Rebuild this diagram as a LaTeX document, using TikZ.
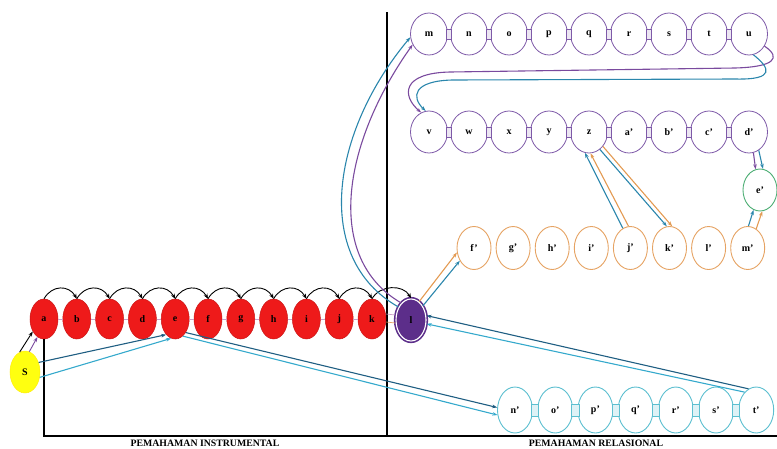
\documentclass[tikz,border=0pt]{standalone}
\usepackage{fontspec}
\setmainfont{Liberation Serif}
\usetikzlibrary{shapes.geometric,arrows.meta}

\definecolor{nodered}{HTML}{EE1A1A}
\definecolor{linkpink}{HTML}{C9A0C8}
\definecolor{ringpurple}{HTML}{7E5AA8}
\definecolor{lpurple}{HTML}{5C2E8A}
\definecolor{ringorange}{HTML}{E6A363}
\definecolor{ringgreen}{HTML}{4DAE74}
\definecolor{ringteal}{HTML}{5CBFD0}
\definecolor{darkblue}{HTML}{1F5E82}
\definecolor{lightblue}{HTML}{35A9CC}
\definecolor{midblue}{HTML}{2A86AC}
\definecolor{arrpurple}{HTML}{7A4A9E}
\definecolor{arrorange}{HTML}{E39A52}
\definecolor{sunyellow}{HTML}{FFFF10}

\begin{document}
\begin{tikzpicture}[x=1pt,y=-1pt,
  lbl/.style={font=\bfseries\fontsize{10}{12}\selectfont},
  redn/.style={ellipse, fill=nodered, draw=nodered!85!black, line width=0.5pt,
    minimum width=28pt, minimum height=40pt, inner sep=0pt, lbl},
  purn/.style={ellipse, fill=white, draw=ringpurple, line width=0.8pt,
    minimum width=37pt, minimum height=42pt, inner sep=0pt, lbl},
  orn/.style={ellipse, fill=white, draw=ringorange, line width=0.9pt,
    minimum width=34pt, minimum height=43pt, inner sep=0pt, lbl},
  tln/.style={ellipse, fill=white, draw=ringteal, line width=0.9pt,
    minimum width=35pt, minimum height=46pt, inner sep=0pt, lbl},
  grn/.style={ellipse, fill=white, draw=ringgreen, line width=0.9pt,
    minimum width=34pt, minimum height=42pt, inner sep=0pt, lbl},
  lnode/.style={ellipse, fill=lpurple, draw=lpurple, line width=1.6pt,
    double=white, double distance=1.1pt,
    minimum width=30pt, minimum height=42pt, inner sep=0pt, lbl},
  snode/.style={ellipse, fill=sunyellow, draw=sunyellow!85!orange, line width=0.5pt,
    minimum width=30pt, minimum height=42pt, inner sep=0pt, lbl},
  pbar/.style={draw=ringpurple, fill=ringpurple!15, line width=0.6pt},
  tbar/.style={draw=ringteal, fill=ringteal!20, line width=0.7pt},
  hop/.style={line width=0.9pt, -{Stealth[length=5pt,width=4pt]}},
  arr/.style={line width=1.1pt, -{Stealth[length=5pt,width=3.6pt]}},
  frame/.style={line width=1.5pt, black},
  axislabel/.style={font=\bfseries\fontsize{9.8}{11}\selectfont, anchor=base},
]
\useasboundingbox (0,0) rectangle (777,448);

% frame of the two regions
\draw[frame] (387,12) -- (387,436);

% instrumental chain
\foreach \nm/\tx [count=\i from 0] in {ra/a,rb/b,rc/c,rd/d,re/e,rf/f,rg/g,rh/h,ri/i,rj/j,rk/k}
  \node[redn] (\nm) at ({44+32.8*\i},319) {\tx};
\node[lnode] (nl) at (411,320) {l};
\node[snode] (nS) at (25,372) {S};

\draw[frame] (ra.south) -- (ra.south |- 0,436) -- (777,436);

\foreach \a/\b in {ra/rb,rb/rc,rc/rd,rd/re,re/rf,rf/rg,rg/rh,rh/ri,ri/rj,rj/rk}
  \draw[linkpink, line width=0.6pt] (\a.east) -- (\b.west);
\draw[linkpink, line width=0.7pt] ([yshift=5pt]rk.east) -- ([yshift=5pt]nl.west);
\draw[ringorange, line width=0.7pt] ([yshift=-3pt]rk.east) -- ([yshift=-3pt]nl.west);

\foreach \a/\b in {ra/rb,rb/rc,rc/rd,rd/re,re/rf,rf/rg,rg/rh,rh/ri,ri/rj,rj/rk,rk/nl}
  \draw[hop] (\a.north) .. controls +(8,-14) and +(-8,-14) .. (\b.north);

% relational rings
\foreach \nm/\tx [count=\i from 0] in {tm/m,tn/n,to/o,tp/p,tq/q,tr/r,ts/s,tt/t,tu/u}
  \node[purn] (\nm) at ({429+40*\i},34) {\tx};
\foreach \nm/\tx [count=\i from 0] in {sv/v,sw/w,sx/x,sy/y,sz/z,sap/a',sbp/b',scp/c',sdp/d'}
  \node[purn] (\nm) at ({429+40*\i},132) {\tx};
\foreach \nm/\tx [count=\i from 0] in {fp/f',gp/g',hp/h',ip/i',jp/j',kp/k',lp/l',mp/m'}
  \node[orn] (\nm) at ({474+39.1*\i},248) {\tx};
\foreach \nm/\tx [count=\i from 0] in {np/n',op/o',pp/p',qp/q',rp/r',spp/s',tpp/t'}
  \node[tln] (\nm) at ({515+40.2*\i},410) {\tx};
\node[grn] (ep) at (760,190) {e'};

% link bars between neighbouring rings
\foreach \a/\b in {tm/tn,tn/to,to/tp,tp/tq,tq/tr,tr/ts,ts/tt,tt/tu,
                   sv/sw,sw/sx,sx/sy,sy/sz,sz/sap,sap/sbp,sbp/scp,scp/sdp}
  \draw[pbar] ([shift={(-1.2,-5)}]\a.east) rectangle ([shift={(1.2,5)}]\b.west);
\foreach \a/\b in {np/op,op/pp,pp/qp,qp/rp,rp/spp,spp/tpp}
  \draw[tbar] ([shift={(-1.5,-6)}]\a.east) rectangle ([shift={(1.5,6)}]\b.west);

% start node into the chain
\draw[arr, black, line width=0.9pt] (nS.105) -- (ra.228);
\draw[arr, arrpurple, line width=0.9pt] (nS.78) -- (ra.250);
\draw[arr, darkblue] (nS.35) -- (re.240);
\draw[arr, lightblue] (nS.-20) -- (re.258);

% e towards the bottom rings
\draw[arr, darkblue] (re.-52) -- (np.172);
\draw[arr, lightblue] (re.-66) -- (np.196);

% t' back to l
\draw[arr, darkblue] (tpp.110) -- (nl.16);
\draw[arr, lightblue] (tpp.123) -- (nl.-14);

% l to f'
\draw[arr, arrorange] (nl.66) -- (fp.195);
\draw[arr, midblue] (nl.50) -- (fp.222);

% l up to m
\draw[arr, midblue] (nl.134) .. controls (312,258) and (331,132) .. (tm.190);
\draw[arr, arrpurple] (nl.120) .. controls (324,258) and (342,144) .. (tm.213);

% u around to v
\draw[arr, arrpurple] (tu.-38) .. controls (782,58) and (774,67) .. (735,68)
  -- (450,72) .. controls (401,73) and (402,96) .. (sv.112);
\draw[arr, midblue] (tu.-78) .. controls (770,68) and (776,80) .. (735,79)
  -- (452,80) .. controls (413,81) and (411,97) .. (sv.99);

% d' and m' into e'
\draw[arr, arrpurple] (sdp.-78) -- (ep.102);
\draw[arr, midblue] (sdp.-62) -- (ep.82);
\draw[arr, midblue] (mp.88) -- (ep.252);
\draw[arr, arrorange] (mp.66) -- (ep.276);

% j' to z and z to k'
\draw[arr, midblue] (jp.111) -- (sz.259);
\draw[arr, arrorange] (jp.95) -- (sz.274);
\draw[arr, midblue] (sz.-58) -- (kp.97);
\draw[arr, arrorange] (sz.-46) -- (kp.83);

% region titles
\node[axislabel] (tinst) at (205,446.5) {PEMAHAMAN INSTRUMENTAL};
\node[axislabel] (trel) at (596,446.5) {PEMAHAMAN RELASIONAL};
\end{tikzpicture}
\end{document}
